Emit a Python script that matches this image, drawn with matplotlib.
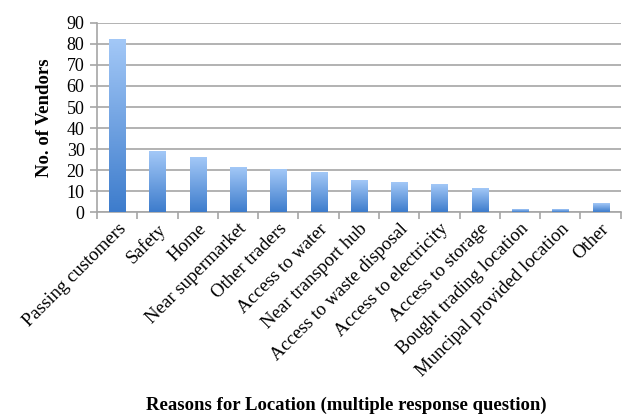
import numpy as np
import matplotlib
matplotlib.use("Agg")
import matplotlib.pyplot as plt
from matplotlib.colors import LinearSegmentedColormap

reasons = ["Passing customers", "Safety", "Home", "Near supermarket", "Other traders",
           "Access to water", "Near transport hub", "Access to waste disposal",
           "Access to electricity", "Access to storage", "Bought trading location",
           "Muncipal provided location", "Other"]
vendors = [82, 29, 26, 21, 20, 19, 15, 14, 13, 11, 1, 1, 4]

plt.rcParams['font.family'] = ['Liberation Serif', 'DejaVu Serif']

fig = plt.figure(figsize=(6.22, 4.16), dpi=100)
ax = fig.add_axes([0.156, 0.49, 0.842, 0.455])

x = np.arange(len(reasons))
width = 0.4
bars = ax.bar(x, vendors, width=width, color='none', edgecolor='none', zorder=3)

# vertical gradient fill, dark at the bottom
cmap = LinearSegmentedColormap.from_list("blu", ["#3d7ccc", "#a3c8f7"])
grad = np.linspace(0, 1, 256).reshape(-1, 1)
for b in bars:
    bx, by = b.get_x(), b.get_y()
    bw, bh = b.get_width(), b.get_height()
    ax.imshow(grad, cmap=cmap, origin='lower', aspect='auto',
              extent=[bx, bx + bw, by, by + bh], zorder=3)

ax.set_xlim(-0.5, len(reasons) - 0.5)
ax.set_ylim(0, 90)
ax.set_yticks(np.arange(0, 91, 10))
ax.yaxis.grid(True, color='#a6a6a6', linewidth=1.2, zorder=0)
ax.set_axisbelow(True)

ax.set_xticks(x)
ax.set_xticklabels(reasons, rotation=45, ha='right', rotation_mode='anchor', fontsize=13.5)
ax.tick_params(axis='x', length=0, pad=6)
ax.set_xticks(np.arange(-0.5, len(reasons), 1), minor=True)
ax.tick_params(axis='x', which='minor', length=5, color='#a6a6a6', width=1.2)
ax.tick_params(axis='y', length=5, color='#a6a6a6', width=1.2, labelsize=13, pad=4)

for s in ['top', 'right']:
    ax.spines[s].set_visible(False)
for s in ['left', 'bottom']:
    ax.spines[s].set_color('#a6a6a6')
    ax.spines[s].set_linewidth(1.2)

ax.set_ylabel("No. of Vendors", fontsize=13.5, fontweight='bold', labelpad=10)
fig.text(0.557, 0.015, "Reasons for Location (multiple response question)",
         ha='center', fontsize=13.5, fontweight='bold')

fig.savefig("out.png", dpi=100)
